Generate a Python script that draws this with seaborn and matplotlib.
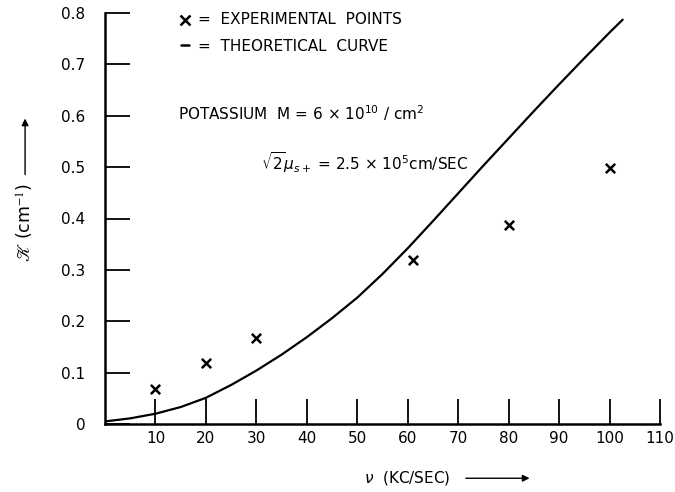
import numpy as np
import pandas as pd
import matplotlib
matplotlib.use("Agg")
import matplotlib.pyplot as plt
import seaborn as sns

# Experimental points
exp_freq = [10, 20, 30, 61, 80, 100]
exp_k = [0.068, 0.118, 0.168, 0.320, 0.388, 0.498]

# Theoretical curve
theo_freq = [0, 5, 10, 15, 20, 25, 30, 35, 40, 45, 50, 55, 60, 65, 70, 75, 80, 85, 90, 95, 100, 102.6]
theo_k = [0.005, 0.011, 0.020, 0.033, 0.051, 0.076, 0.104, 0.135, 0.169, 0.206, 0.246,
          0.292, 0.342, 0.395, 0.449, 0.503, 0.556, 0.609, 0.661, 0.712, 0.762, 0.787]

x_ticks = [10, 20, 30, 40, 50, 60, 70, 80, 90, 100, 110]
y_ticks = [0, 0.1, 0.2, 0.3, 0.4, 0.5, 0.6, 0.7, 0.8]
y_tick_labels = ["0", "0.1", "0.2", "0.3", "0.4", "0.5", "0.6", "0.7", "0.8"]

sns.set_style("ticks")
plt.rcParams["font.family"] = ["DejaVu Sans"]
plt.rcParams["text.color"] = "black"

fig = plt.figure(figsize=(6.75, 4.92), dpi=100)
ax = fig.add_axes([105 / 675, 68 / 492, 555 / 675, 411 / 492])

theo = pd.DataFrame({"freq": theo_freq, "k": theo_k})
exp = pd.DataFrame({"freq": exp_freq, "k": exp_k})

sns.lineplot(data=theo, x="freq", y="k", color="black", linewidth=1.6, ax=ax)
sns.scatterplot(data=exp, x="freq", y="k", marker="x", color="black", s=45,
                linewidth=1.8, ax=ax)

ax.set_xlim(0, 110)
ax.set_ylim(0, 0.8)
ax.set_xticks(x_ticks)
ax.set_yticks(y_ticks)
ax.set_yticklabels(y_tick_labels)
ax.set_xlabel("")
ax.set_ylabel("")

for side in ["top", "right"]:
    ax.spines[side].set_visible(False)
for side in ["left", "bottom"]:
    ax.spines[side].set_linewidth(1.8)
    ax.spines[side].set_color("black")

ax.tick_params(axis="both", direction="in", length=18, width=1.3, colors="black",
               labelcolor="black", labelsize=11)
ax.tick_params(axis="y", pad=14)
ax.tick_params(axis="x", pad=5)

# legend-like annotations
ax.plot([15.8], [0.787], marker="x", color="black", markersize=7, mew=1.8,
        clip_on=False)
ax.text(18.5, 0.787, "=  EXPERIMENTAL  POINTS", fontsize=11, va="center", color="black")
ax.plot([15.0, 16.6], [0.737, 0.737], color="black", linewidth=1.8)
ax.text(18.5, 0.735, "=  THEORETICAL  CURVE", fontsize=11, va="center", color="black")

ax.text(14.5, 0.605, r"POTASSIUM  M = 6 $\times$ 10$^{10}$ / cm$^2$", fontsize=11,
        va="center", color="black")
ax.text(31.0, 0.508, r"$\sqrt{2}\mu_{s+}$ = 2.5 $\times$ 10$^{5}$cm/SEC", fontsize=11,
        va="center", color="black")

# axis labels with arrows
ax.text(-0.144, 0.49, r"$\mathscr{K}$ (cm$^{-1}$)", transform=ax.transAxes,
        rotation=90, ha="center", va="center", fontsize=12.5, color="black",
        math_fontfamily="stix")
ax.annotate("", xy=(-0.144, 0.75), xytext=(-0.144, 0.60), xycoords="axes fraction",
            textcoords="axes fraction",
            arrowprops=dict(arrowstyle="-|>", color="black", lw=1.0, mutation_scale=10))

ax.text(0.545, -0.132, r"$\nu$  (KC/SEC)", transform=ax.transAxes,
        ha="center", va="center", fontsize=11, color="black")
ax.annotate("", xy=(0.77, -0.132), xytext=(0.645, -0.132), xycoords="axes fraction",
            textcoords="axes fraction",
            arrowprops=dict(arrowstyle="-|>", color="black", lw=1.0, mutation_scale=10))

fig.savefig("out.png", dpi=100)
